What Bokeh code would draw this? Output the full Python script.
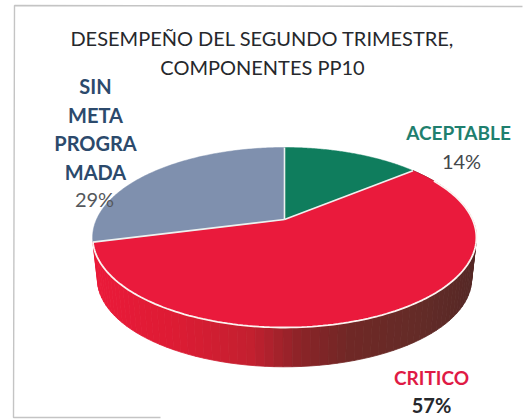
import numpy as np
from bokeh.plotting import figure
from bokeh.models import Range1d
from bokeh.core.properties import value
from bokeh.embed import file_html
from bokeh.resources import INLINE

title_lines = ["DESEMPEÑO DEL SEGUNDO TRIMESTRE,", "COMPONENTES PP10"]
categories = ["ACEPTABLE", "CRITICO", "SIN META PROGRAMADA"]
series_values = [14, 57, 29]
pct_labels = ["14%", "57%", "29%"]
slice_colors = ["#0f7d5d", "#ea1a3c", "#7f90ae"]
sin_lines = ["SIN", "META", "PROGRA", "MADA"]

CX, CY, R, B, K = 284.0, 219.0, 188.0, 86.4, 0.2
DEPTH = 42.0


def project(theta, drop=0.0, scale=1.0):
    sx, cy_ = np.sin(theta), np.cos(theta)
    den = 1 + K * cy_
    return CX + scale * R * sx / den, CY + drop - scale * B * cy_ / den


p = figure(width=528, height=420, output_backend="svg", toolbar_location=None,
           x_range=Range1d(0, 528), y_range=Range1d(420, 0), min_border=0,
           background_fill_color="white", border_fill_color="white",
           outline_line_color=None)
p.axis.visible = False
p.grid.visible = False

# faint scanned frame of the chart
p.line([522, 14, 13, 160], [6, 5, 417, 417], line_color="#c4c4c4", line_width=1.4)

fracs = np.cumsum([0] + series_values) / np.sum(series_values)
angles = fracs * 2 * np.pi

# side wall of the critical slice, shaded from left to right
wall_edges = np.linspace(angles[2], angles[1], 91)
stops_x = [93, 170, 250, 300, 350, 420, 475]
stops_c = [(235, 26, 58), (222, 28, 52), (196, 32, 48), (140, 36, 40), (112, 40, 38), (100, 44, 40), (86, 40, 38)]
wx, wy, wc = [], [], []
for a0, a1 in zip(wall_edges[:-1], wall_edges[1:]):
    x0, y0 = project(a0)
    x1, y1 = project(a1)
    x3, y3 = project(a0, DEPTH, 0.975)
    x2, y2 = project(a1, DEPTH, 0.975)
    wx.append([x0, x1, x2, x3])
    wy.append([y0, y1, y2, y3])
    m = (x0 + x1) / 2
    col = [int(np.interp(m, stops_x, [s[i] for s in stops_c])) for i in range(3)]
    wc.append("#%02x%02x%02x" % tuple(col))
p.patches(wx, wy, fill_color=wc, line_color=wc, line_width=0.8)

# top face
xs, ys = [], []
for a0, a1 in zip(angles[:-1], angles[1:]):
    t = np.linspace(a0, a1, 120)
    x, y = project(t)
    xs.append([CX] + list(x))
    ys.append([CY] + list(y))
p.patches(xs, ys, fill_color=slice_colors, line_color=slice_colors, line_width=0.5)

# white separators and near rim
for a in angles[:3]:
    x, y = project(a)
    p.line([CX, x], [CY, y], line_color="#eef2f0", line_width=1.6)
t = np.linspace(angles[1] + 0.18, angles[2], 150)
x, y = project(t)
p.line(x, y, line_color="#fbf3f0", line_width=1.8)


def label(x, y, txt, color, size, style="bold"):
    p.text([x], [y], text=[txt], text_color=color, text_font=value("Lato"),
           text_font_size=size, text_font_style=style,
           text_align="center", text_baseline="middle")


label(262, 37, title_lines[0], "#26282c", "20px", "normal")
label(262, 66, title_lines[1], "#26282c", "20px", "normal")

for yy, s in zip([85, 114, 142, 171], sin_lines):
    label(95, yy, s, "#2c4a6c", "20px")
label(94, 198, pct_labels[2], "#55585c", "20px", "normal")

label(458, 132, categories[0], "#1f7f6e", "19px")
label(461, 160, pct_labels[0], "#44484c", "20px", "normal")

label(431, 377, categories[1], "#df1a45", "19px")
label(431, 404, pct_labels[1], "#26282c", "20px")

open("out.html", "w").write(file_html(p, INLINE))
